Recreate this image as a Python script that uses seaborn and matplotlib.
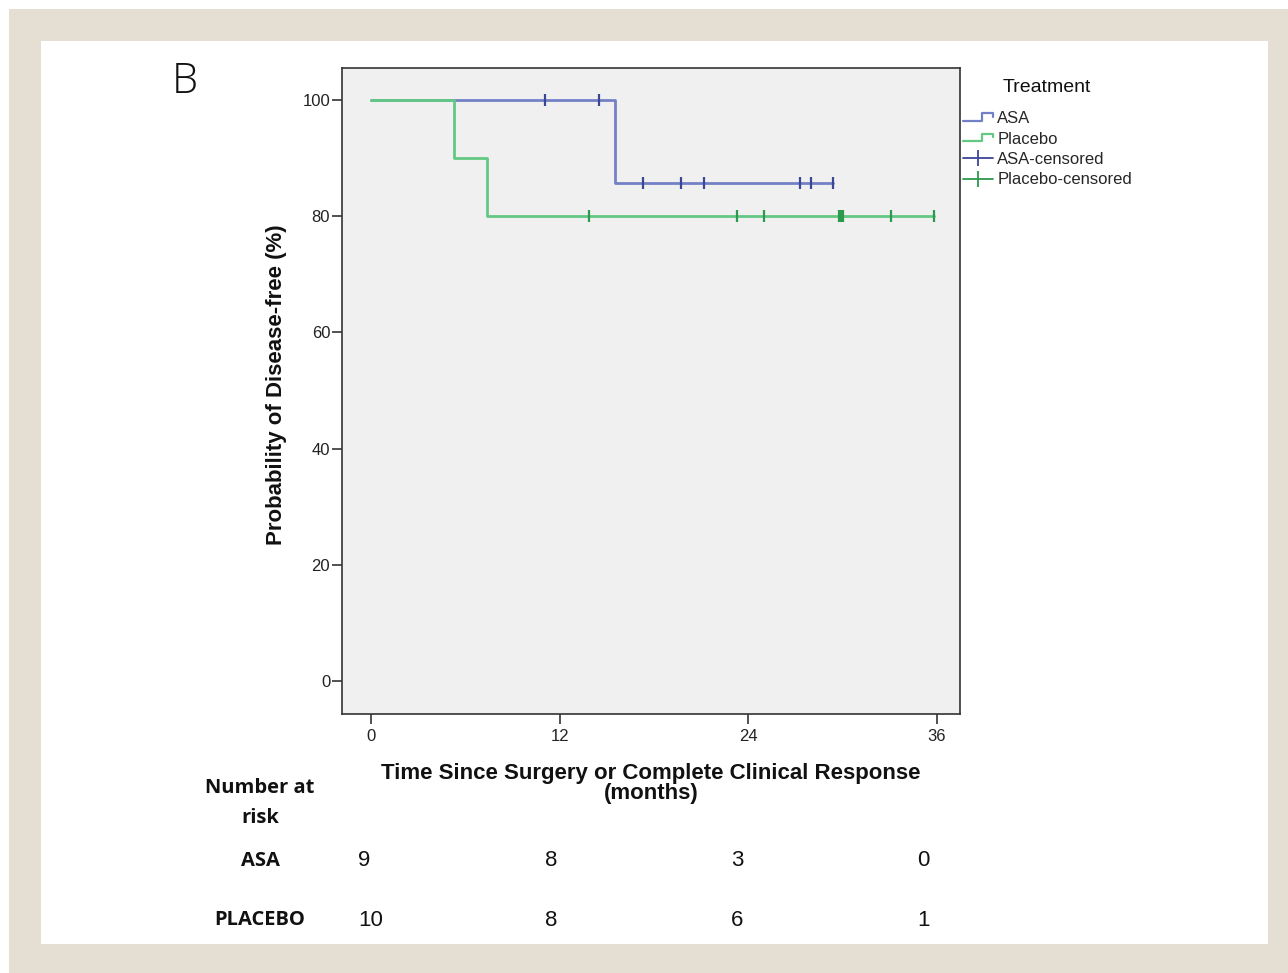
import matplotlib
matplotlib.use("Agg")
import numpy as np
import pandas as pd
import matplotlib.pyplot as plt
import seaborn as sns
from matplotlib import font_manager
from matplotlib.lines import Line2D
from matplotlib.legend_handler import HandlerBase
from matplotlib.patches import Rectangle

# ---------------- data ----------------
GROUPS = ["ASA", "Placebo"]
ASA_EVENT_TIMES = [15.5]
ASA_CENSOR_TIMES = [11.1, 14.5, 17.3, 19.7, 21.2, 27.3, 28.0, 29.4]
PLACEBO_EVENT_TIMES = [5.3, 7.4]
PLACEBO_CENSOR_TIMES = [13.9, 23.3, 25.0, 29.8, 29.9, 30.0, 33.1, 35.8]

X_TICKS = [0, 12, 24, 36]
Y_TICKS = [0, 20, 40, 60, 80, 100]
X_LABEL = "Time Since Surgery or Complete Clinical Response\n(months)"
Y_LABEL = "Probability of Disease-free (%)"
LEGEND_TITLE = "Treatment"
LEGEND_LABELS = ["ASA", "Placebo", "ASA-censored", "Placebo-censored"]

RISK_TITLE = "Number at\nrisk"
RISK_LABELS = ["ASA", "PLACEBO"]
ASA_AT_RISK = [9, 8, 3, 0]
PLACEBO_AT_RISK = [10, 8, 6, 1]
PANEL_LETTER = "B"

# ---------------- style ----------------
LINE_COLORS = {"ASA": "#7480c6", "Placebo": "#62c883"}
CENSOR_COLORS = {"ASA": "#3a4794", "Placebo": "#2c9a4c"}
BEIGE = "#e5dfd3"

W, H = 1288, 973


def fx(px):
    return px / W


def fy(py):
    return 1 - py / H


def km_steps(events, censors):
    times = sorted(set(events) | set(censors))
    at_risk = len(events) + len(censors)
    s = 100.0
    xs, ys, cens = [0.0], [100.0], []
    for t in times:
        d = events.count(t)
        c = censors.count(t)
        if d:
            s = s * (at_risk - d) / at_risk
            xs.append(t)
            ys.append(s)
        cens += [(t, s)] * c
        at_risk -= d + c
    xs.append(max(times))
    ys.append(s)
    return xs, ys, cens


step_rows, cens_rows = [], []
for g, ev, ce in [("ASA", ASA_EVENT_TIMES, ASA_CENSOR_TIMES),
                  ("Placebo", PLACEBO_EVENT_TIMES, PLACEBO_CENSOR_TIMES)]:
    xs, ys, cens = km_steps(ev, ce)
    step_rows += [{"time": x, "surv": y, "group": g} for x, y in zip(xs, ys)]
    cens_rows += [{"time": x, "surv": y, "group": g} for x, y in cens]
step_df = pd.DataFrame(step_rows)
cens_df = pd.DataFrame(cens_rows)

sns.set_theme(style="white")
plt.rcParams["font.family"] = ["Liberation Sans", "DejaVu Sans"]

available = {f.name for f in font_manager.fontManager.ttflist}
NARROW = "Liberation Sans Narrow" if "Liberation Sans Narrow" in available else "Liberation Sans"
LABEL_FONT = "Open Sans" if "Open Sans" in available else "DejaVu Sans"

fig = plt.figure(figsize=(W / 100, H / 100), dpi=100)
fig.patch.set_facecolor(BEIGE)
# white outer strips and white panel (behind everything)
for rect in [((0, fy(9)), 1, 9 / H),
             ((0, 0), fx(9), 1),
             ((fx(41), fy(944)), fx(1268) - fx(41), fy(41) - fy(944))]:
    fig.patches.append(Rectangle(rect[0], rect[1], rect[2], transform=fig.transFigure,
                                 facecolor="white", edgecolor="none", zorder=-10))

ax = fig.add_axes([fx(342), fy(714), fx(960) - fx(342), fy(68) - fy(714)])
ax.set_zorder(1)
ax.set_facecolor("#f0f0f0")

for g in GROUPS:
    sns.lineplot(data=step_df[step_df["group"] == g], x="time", y="surv",
                 color=LINE_COLORS[g], drawstyle="steps-post", estimator=None,
                 sort=False, linewidth=2.0, legend=False, ax=ax, zorder=3)
for g in GROUPS:
    sns.scatterplot(data=cens_df[cens_df["group"] == g], x="time", y="surv",
                    color=CENSOR_COLORS[g], marker="|", s=70, linewidth=1.6,
                    legend=False, ax=ax, zorder=4)

ax.set_xlim(-1.84, 37.47)
ax.set_ylim(-5.7, 105.5)
ax.set_xticks(X_TICKS)
ax.set_yticks(Y_TICKS)
ax.tick_params(axis="both", which="major", direction="out", length=7, width=1.2,
               color="#333333", labelsize=12, labelcolor="#222222",
               bottom=True, left=True)
ax.tick_params(axis="y", pad=1.5)
ax.tick_params(axis="x", pad=3.5)
for sp in ax.spines.values():
    sp.set_color("#333333")
    sp.set_linewidth(1.2)

ax.set_xlabel(X_LABEL, fontsize=16, fontweight="bold", linespacing=0.92,
              labelpad=14, color="#111111")
ax.set_ylabel(Y_LABEL, fontsize=16, fontweight="bold", color="#111111")
ax.yaxis.set_label_coords(-0.089, 0.51)


class StepHandler(HandlerBase):
    def create_artists(self, legend, orig_handle, xdescent, ydescent,
                       width, height, fontsize, trans):
        x0 = -xdescent
        xs = [x0, x0 + 0.62 * width, x0 + 0.62 * width, x0 + width, x0 + width]
        ys = [0.2 * height, 0.2 * height, 0.85 * height, 0.85 * height, 0.55 * height]
        ln = Line2D(xs, ys, color=orig_handle.get_color(),
                    linewidth=orig_handle.get_linewidth(), transform=trans)
        return [ln]


h_asa = Line2D([0], [0], color=LINE_COLORS["ASA"], linewidth=1.6)
h_pla = Line2D([0], [0], color=LINE_COLORS["Placebo"], linewidth=1.6)
h_asa_c = Line2D([0], [0], color=CENSOR_COLORS["ASA"], linewidth=1.3,
                 marker="|", markersize=11, markeredgewidth=1.3)
h_pla_c = Line2D([0], [0], color=CENSOR_COLORS["Placebo"], linewidth=1.3,
                 marker="|", markersize=11, markeredgewidth=1.3)

fig.legend([h_asa, h_pla, h_asa_c, h_pla_c], LEGEND_LABELS,
           loc="upper left", bbox_to_anchor=(fx(963), fy(111)),
           frameon=False, borderpad=0, borderaxespad=0,
           prop={"family": "Liberation Sans", "size": 12},
           handlelength=1.8, handletextpad=0.25, labelspacing=0.33,
           numpoints=1, handler_map={h_asa: StepHandler(), h_pla: StepHandler()})
fig.text(fx(1047), fy(88), LEGEND_TITLE, ha="center", va="center",
         fontsize=14, family="Liberation Sans", color="#111111")

# panel letter
fig.text(fx(185), fy(82), PANEL_LETTER, ha="center", va="center",
         fontsize=30, family=LABEL_FONT, fontweight="light", color="#111111")

# number at risk table
fig.text(fx(260), fy(803), RISK_TITLE, ha="center", va="center", fontsize=14.5,
         family=LABEL_FONT, fontweight="bold", linespacing=1.65, color="#111111")
row_y = [861, 920]
for lab, yy, vals in zip(RISK_LABELS, row_y, [ASA_AT_RISK, PLACEBO_AT_RISK]):
    fig.text(fx(260), fy(yy), lab, ha="center", va="center", fontsize=14.5,
             family=LABEL_FONT, fontweight="bold", color="#111111")
    for i, v in enumerate(vals):
        fig.text(fx(358 + 186.5 * i), fy(yy), str(v), ha="left", va="center",
                 fontsize=16, family=NARROW, color="#111111")

fig.savefig("out.png", dpi=100, facecolor=fig.get_facecolor())
